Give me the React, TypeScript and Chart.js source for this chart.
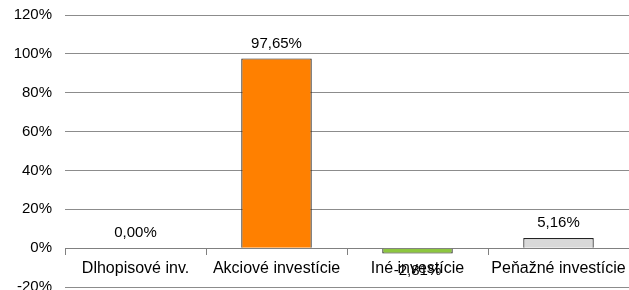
import React, { useEffect, useRef } from "react";
import { Chart, registerables } from "chart.js";

Chart.register(...registerables);

const categories = ["Dlhopisové inv.", "Akciové investície", "Iné investície", "Peňažné investície"];
const values = [0.0, 97.65, -2.81, 5.16];
const barColors = ["#FF8000", "#FF8000", "#8DC63F", "#D9D9D9"];
const yTicksMin = -20;
const yTicksMax = 120;
const yStep = 20;

const fmt = (v: number) => v.toFixed(2).replace(".", ",") + "%";

const FONT = "'Liberation Sans', Arial, sans-serif";

const labelPlugin = {
  id: "valueLabels",
  afterDatasetsDraw(chart: any) {
    const ctx = chart.ctx;
    const meta = chart.getDatasetMeta(0);
    ctx.save();
    ctx.font = `15px ${FONT}`;
    ctx.fillStyle = "#000";
    ctx.textAlign = "center";
    ctx.textBaseline = "middle";
    meta.data.forEach((bar: any, i: number) => {
      const v = values[i];
      const y = v >= 0 ? bar.y - 15 : bar.y + 17;
      ctx.fillText(fmt(v), bar.x, y);
    });
    ctx.restore();
  },
};

export default function App() {
  const ref = useRef<HTMLCanvasElement>(null);
  useEffect(() => {
    document.body.style.margin = "0";
    const chart = new Chart(ref.current!, {
      type: "bar",
      data: {
        labels: categories,
        datasets: [
          {
            data: values,
            backgroundColor: barColors,
            borderColor: "#222",
            borderWidth: 1.2,
            barPercentage: 0.5,
            categoryPercentage: 1,
          },
        ],
      },
      options: {
        animation: false,
        responsive: false,
        layout: { padding: { top: 15, bottom: 3, left: 0, right: 0 } },
        plugins: { legend: { display: false }, tooltip: { enabled: false } },
        scales: {
          x: {
            position: { y: 0 } as any,
            grid: {
              drawOnChartArea: false,
              drawTicks: true,
              offset: true,
              tickLength: 6,
              color: "#808080",
            },
            border: { display: true, color: "#808080" },
            ticks: {
              font: { size: 16, family: FONT },
              color: "#000",
              padding: 5,
              maxRotation: 0,
              autoSkip: false,
            },
            afterFit: (scale: any) => {
              scale.paddingLeft = 0;
              scale.paddingRight = 0;
            },
          },
          y: {
            min: yTicksMin,
            max: yTicksMax,
            ticks: {
              stepSize: yStep,
              font: { size: 15, family: FONT },
              color: "#000",
              padding: 13,
              callback: (v: any) => v + "%",
            },
            grid: { color: "#8c8c8c", drawTicks: false },
            border: { display: false },
            afterFit: (scale: any) => {
              scale.width = 65;
              scale.paddingTop = 0;
              scale.paddingBottom = 0;
            },
          },
        },
      },
      plugins: [labelPlugin],
    });
    return () => chart.destroy();
  }, []);
  return <canvas ref={ref} width={629} height={290} style={{ display: "block" }} />;
}
